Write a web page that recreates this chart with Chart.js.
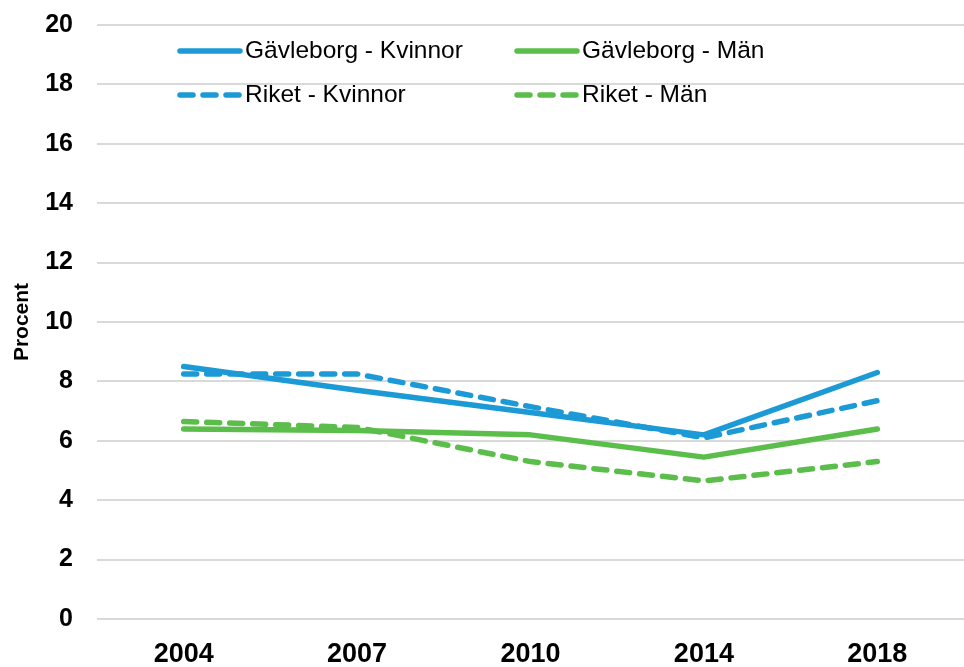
<!DOCTYPE html>
<html lang="sv">
<head>
  <meta charset="UTF-8">
  <title>Procent 2004-2018</title>
  <script src="https://cdn.jsdelivr.net/npm/chart.js"></script>
  <style>
    body {
      margin: 0;
      background: #fff;
    }
    .chart-box {
      width: 964px;
      height: 667px;
    }
  </style>
</head>
<body>
  <div class="chart-box">
    <canvas id="chart"></canvas>
  </div>

  <script>
    const years = ['2004', '2007', '2010', '2014', '2018'];
    const gavleborgKvinnor = [8.5, 7.7, 6.95, 6.2, 8.3];
    const riketKvinnor = [8.25, 8.25, 7.15, 6.1, 7.35];
    const gavleborgMan = [6.4, 6.35, 6.2, 5.45, 6.4];
    const riketMan = [6.65, 6.45, 5.3, 4.65, 5.3];

    const BLUE = '#1b9ad6';
    const GREEN = '#5bbd4a';
    const DASH = [13, 10];
    const FONT = '"Liberation Sans", Arial, sans-serif';

    function series(label, data, color, dashed) {
      return {
        label: label,
        data: data,
        borderColor: color,
        backgroundColor: color,
        borderWidth: 5.5,
        borderDash: dashed ? DASH : [],
        borderCapStyle: 'round',
        borderJoinStyle: 'round',
        pointRadius: 0,
        tension: 0,
        fill: false
      };
    }

    // legend sits inside the plot, two columns, drawn by hand
    const legendSlots = [
      { x: 178, y: 51 },  // Gävleborg - Kvinnor
      { x: 515, y: 51 },  // Gävleborg - Män
      { x: 178, y: 95 },  // Riket - Kvinnor
      { x: 515, y: 95 }   // Riket - Män
    ];

    const insideLegend = {
      id: 'insideLegend',
      afterDraw(chart) {
        const ctx = chart.ctx;
        chart.data.datasets.forEach((ds, i) => {
          const slot = legendSlots[i];
          ctx.save();
          ctx.strokeStyle = ds.borderColor;
          ctx.lineWidth = 5.5;
          ctx.lineCap = 'round';
          ctx.setLineDash(ds.borderDash);
          ctx.beginPath();
          ctx.moveTo(slot.x + 2, slot.y);
          ctx.lineTo(slot.x + 62, slot.y);
          ctx.stroke();
          ctx.setLineDash([]);
          ctx.fillStyle = '#000';
          ctx.font = '24.5px ' + FONT;
          ctx.textBaseline = 'middle';
          ctx.textAlign = 'left';
          ctx.fillText(ds.label, slot.x + 67, slot.y);
          ctx.restore();
        });
      }
    };

    const chart = new Chart(document.getElementById('chart'), {
      type: 'line',
      data: {
        labels: years,
        datasets: [
          series('Gävleborg - Kvinnor', gavleborgKvinnor, BLUE, false),
          series('Gävleborg - Män', gavleborgMan, GREEN, false),
          series('Riket - Kvinnor', riketKvinnor, BLUE, true),
          series('Riket - Män', riketMan, GREEN, true)
        ]
      },
      options: {
        responsive: true,
        maintainAspectRatio: false,
        animation: false,
        layout: {
          padding: { top: 25, right: 0, bottom: 0, left: 0 }
        },
        plugins: {
          legend: { display: false },
          tooltip: { enabled: false }
        },
        scales: {
          x: {
            offset: true,
            grid: { display: false },
            border: { display: false },
            ticks: {
              color: '#000',
              padding: 11,
              font: { family: FONT, size: 27, weight: 'bold' }
            },
            afterFit(scale) {
              scale.height = 48;
            }
          },
          y: {
            min: 0,
            max: 20,
            border: { display: false },
            grid: {
              color: '#d9d9d9',
              lineWidth: 2,
              drawTicks: false
            },
            ticks: {
              stepSize: 2,
              color: '#000',
              padding: 24,
              font: { family: FONT, size: 25, weight: 'bold' }
            },
            title: {
              display: true,
              text: 'Procent',
              color: '#000',
              padding: { top: 10, bottom: 0 },
              font: { family: FONT, size: 21, weight: 'bold' }
            },
            afterFit(scale) {
              scale.width = 97;
              scale.paddingTop = 0;
              scale.paddingBottom = 0;
            }
          }
        }
      },
      plugins: [insideLegend]
    });
  </script>
</body>
</html>
